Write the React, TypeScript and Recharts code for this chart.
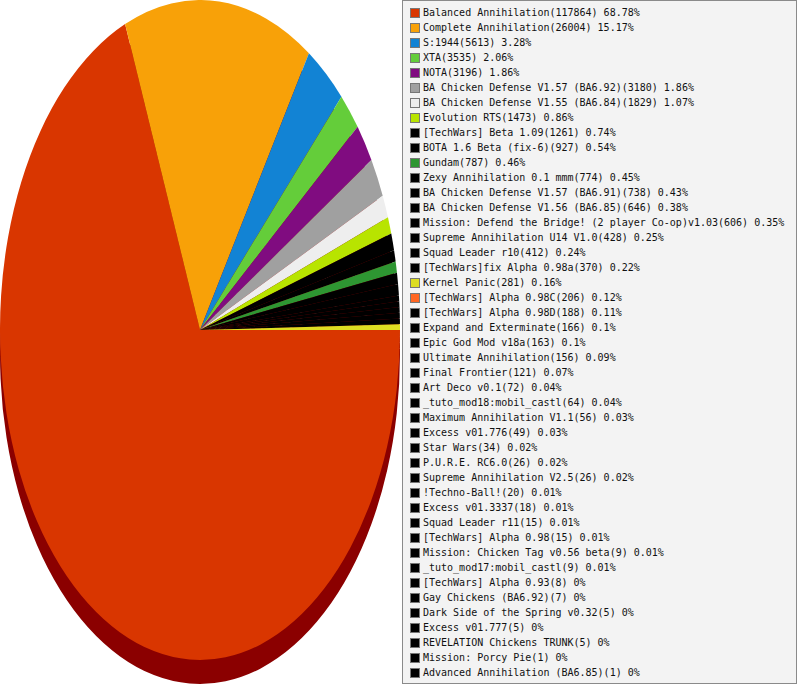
import { Cell, Pie, PieChart } from "recharts";

const names = [
  "Balanced Annihilation",
  "Complete Annihilation",
  "S:1944",
  "XTA",
  "NOTA",
  "BA Chicken Defense V1.57 (BA6.92)",
  "BA Chicken Defense V1.55 (BA6.84)",
  "Evolution RTS",
  "[TechWars] Beta 1.09",
  "BOTA 1.6 Beta (fix-6)",
  "Gundam",
  "Zexy Annihilation 0.1 mmm",
  "BA Chicken Defense V1.57 (BA6.91)",
  "BA Chicken Defense V1.56 (BA6.85)",
  "Mission: Defend the Bridge! (2 player Co-op)v1.03",
  "Supreme Annihilation U14 V1.0",
  "Squad Leader r10",
  "[TechWars]fix Alpha 0.98a",
  "Kernel Panic",
  "[TechWars] Alpha 0.98C",
  "[TechWars] Alpha 0.98D",
  "Expand and Exterminate",
  "Epic God Mod v18a",
  "Ultimate Annihilation",
  "Final Frontier",
  "Art Deco v0.1",
  "_tuto_mod18:mobil_castl",
  "Maximum Annihilation V1.1",
  "Excess v01.776",
  "Star Wars",
  "P.U.R.E. RC6.0",
  "Supreme Annihilation V2.5",
  "!Techno-Ball!",
  "Excess v01.3337",
  "Squad Leader r11",
  "[TechWars] Alpha 0.98",
  "Mission: Chicken Tag v0.56 beta",
  "_tuto_mod17:mobil_castl",
  "[TechWars] Alpha 0.93",
  "Gay Chickens (BA6.92)",
  "Dark Side of the Spring v0.32",
  "Excess v01.777",
  "REVELATION Chickens TRUNK",
  "Mission: Porcy Pie",
  "Advanced Annihilation (BA6.85)",
];

const counts = [
  117864, 26004, 5613, 3535, 3196, 3180, 1829, 1473, 1261, 927, 787, 774, 738, 646, 606, 428, 412, 370, 281,
  206, 188, 166, 163, 156, 121, 72, 64, 56, 49, 34, 26, 26, 20, 18, 15, 15, 9, 9, 8, 7, 5, 5, 5, 1, 1,
];

const percents = [
  "68.78%", "15.17%", "3.28%", "2.06%", "1.86%", "1.86%", "1.07%", "0.86%", "0.74%", "0.54%", "0.46%", "0.45%",
  "0.43%", "0.38%", "0.35%", "0.25%", "0.24%", "0.22%", "0.16%", "0.12%", "0.11%", "0.1%", "0.1%", "0.09%",
  "0.07%", "0.04%", "0.04%", "0.03%", "0.03%", "0.02%", "0.02%", "0.02%", "0.01%", "0.01%", "0.01%", "0.01%",
  "0.01%", "0.01%", "0%", "0%", "0%", "0%", "0%", "0%", "0%",
];

const colors = [
  "#d93600", "#f8a108", "#1283d4", "#64cd3a", "#800c80", "#a0a0a0", "#eeeeee", "#b8e400", "#000000",
  "#000000", "#2e9632", "#000000", "#000000", "#000000", "#000000", "#000000", "#000000", "#000000",
  "#dddd22", "#ff6622",
];
const colorAt = (i: number) => colors[i] ?? "#000000";

const SHADOW = "#8b0000";
const Y_SCALE = 1.65;

// the original renderer snaps every slice to whole degrees
const total = counts.reduce((a, b) => a + b, 0);
const data = names.map((name, i) => ({ name, deg: Math.round((counts[i] / total) * 360) }));

function EllipseSector(props: any) {
  const { cx, cy, startAngle, endAngle, outerRadius, fill } = props;
  const rx = outerRadius;
  const ry = outerRadius * Y_SCALE;
  const rad = Math.PI / 180;
  const delta = Math.abs(endAngle - startAngle);
  if (delta <= 0) return null;
  if (delta >= 359.999) return <ellipse cx={cx} cy={cy} rx={rx} ry={ry} fill={fill} />;
  const x1 = cx + rx * Math.cos(startAngle * rad);
  const y1 = cy - ry * Math.sin(startAngle * rad);
  const x2 = cx + rx * Math.cos(endAngle * rad);
  const y2 = cy - ry * Math.sin(endAngle * rad);
  const large = delta > 180 ? 1 : 0;
  const sweep = startAngle > endAngle ? 1 : 0;
  return <path d={`M${cx},${cy}L${x1},${y1}A${rx},${ry} 0 ${large} ${sweep} ${x2},${y2}Z`} fill={fill} />;
}

function LegendBox() {
  return (
    <div
      style={{
        position: "absolute",
        left: 402,
        top: 0,
        width: 395,
        height: 684,
        boxSizing: "border-box",
        border: "1px solid #8a8a8a",
        background: "#f3f3f3",
        paddingTop: 4,
        fontFamily: "'DejaVu Sans Mono', monospace",
        fontSize: 10,
        color: "#111",
      }}
    >
      {names.map((name, i) => (
        <div key={i} style={{ height: 15, display: "flex", alignItems: "center", whiteSpace: "nowrap" }}>
          <span
            style={{
              display: "inline-block",
              width: 8,
              height: 8,
              marginLeft: 7,
              marginRight: 3,
              border: "1px solid #777",
              background: colorAt(i),
            }}
          />
          <span>{`${name}(${counts[i]}) ${percents[i]}`}</span>
        </div>
      ))}
    </div>
  );
}

export default function App() {
  return (
    <div style={{ position: "absolute", left: 0, top: 0, width: 797, height: 685, background: "#fff" }}>
      <div style={{ position: "absolute", left: 0, top: 0 }}>
        <PieChart width={400} height={685} margin={{ top: 0, right: 0, bottom: 0, left: 0 }}>
          <Pie
            data={data}
            dataKey="deg"
            cx={200}
            cy={354}
            outerRadius={200}
            startAngle={0}
            endAngle={-360}
            stroke="none"
            isAnimationActive={false}
            shape={EllipseSector}
            inactiveShape={EllipseSector}
            activeShape={EllipseSector}
          >
            {data.map((_, i) => (
              <Cell key={i} fill={SHADOW} />
            ))}
          </Pie>
          <Pie
            data={data}
            dataKey="deg"
            cx={200}
            cy={330}
            outerRadius={200}
            startAngle={0}
            endAngle={-360}
            stroke="none"
            isAnimationActive={false}
            shape={EllipseSector}
            inactiveShape={EllipseSector}
            activeShape={EllipseSector}
          >
            {data.map((_, i) => (
              <Cell key={i} fill={colorAt(i)} />
            ))}
          </Pie>
        </PieChart>
      </div>
      <LegendBox />
    </div>
  );
}
